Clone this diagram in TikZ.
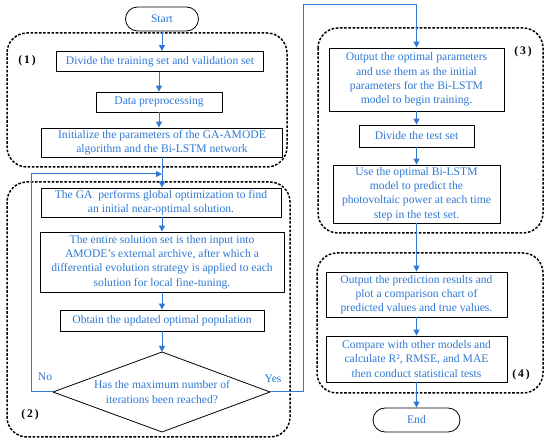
\documentclass[tikz,border=0pt]{standalone}
\usepackage{fontspec}
\setmainfont{Liberation Serif}
\usetikzlibrary{arrows.meta}
\definecolor{flowblue}{HTML}{2F78D4}
\begin{document}
\begin{tikzpicture}[x=1pt,y=-1pt, font=\fontsize{11.6}{14.2}\selectfont, line join=round,
	box/.style={draw, line width=0.8pt, align=center, text=flowblue, inner sep=1pt},
	term/.style={draw, line width=0.8pt, rounded corners=12pt, minimum width=73pt, minimum height=24pt, text=flowblue},
	group/.style={draw, line width=1.5pt, dash pattern=on 2.6pt off 1.6pt, rounded corners=20pt},
	flow/.style={flowblue, line width=1pt, -{Triangle[length=6pt,width=6pt]}},
	tag/.style={font=\fontsize{11.6}{12}\selectfont\bfseries}]
	\useasboundingbox (0,0) rectangle (550,443);
	% dashed groups
	\draw[group] (7,33) rectangle (287,167);
	\draw[group] (7,182) rectangle (290,437);
	\draw[group] (318,28) rectangle (543,233);
	\draw[group] (317,253) rectangle (543,393);
	\path (27,61) node[tag]{(\,1\,)} (30,415) node[tag]{(\,2\,)}
		(523,52) node[tag]{(\,3\,)} (521,375) node[tag]{(\,4\,)};
	% left column
	\node[term] (start) at (162,19) {Start};
	\node[box, minimum width=207pt, minimum height=20pt] (divtrain) at (160,61.5) {Divide the training set and validation set};
	\node[box, minimum width=126pt, minimum height=20pt] (prep) at (159,102) {Data preprocessing};
	\node[box, minimum width=241pt, minimum height=29pt] (init) at (162,142.5) {Initialize the parameters of the GA-AMODE\\algorithm and the Bi-LSTM network};
	\node[box, minimum width=240pt, minimum height=29pt] (ga) at (161,202.5) {The GA\ \ performs global optimization to find\\an initial near-optimal solution.};
	\node[box, minimum width=244pt, minimum height=60pt] (archive) at (162,262) {The entire solution set is then input into\\AMODE’s external archive, after which a\\differential evolution strategy is applied to each\\solution for local fine-tuning.};
	\node[box, minimum width=204pt, minimum height=21pt] (obtain) at (162,320.5) {Obtain the updated optimal population};
	\coordinate (dtop) at (162,352); \coordinate (dbot) at (162,432);
	\coordinate (dleft) at (53,392); \coordinate (dright) at (270,392);
	\draw[line width=0.8pt] (dtop) -- (dright) -- (dbot) -- (dleft) -- cycle;
	\node[align=center, text=flowblue] (ask) at (162,392) {Has the maximum number of\\iterations been reached?};
	\coordinate (loop) at (162,174);
	\node[text=flowblue] (nolab) at (45,377) {No};
	\node[text=flowblue] (yeslab) at (273,379) {Yes};
	% right column
	\node[box, minimum width=175pt, minimum height=63pt] (optpar) at (416.5,79.5) {Output the optimal parameters\\and use them as the initial\\parameters for the Bi-LSTM\\model to begin training.};
	\node[box, minimum width=115pt, minimum height=22pt] (divtest) at (416.5,136) {Divide the test set};
	\node[box, minimum width=167pt, minimum height=58pt] (predict) at (416.5,194) {Use the optimal Bi-LSTM\\model to predict the\\photovoltaic power at each time\\step in the test set.};
	\node[box, minimum width=181pt, minimum height=45pt] (result) at (416.5,294.5) {Output the prediction results and\\plot a comparison chart of\\predicted values and true values.};
	\node[box, minimum width=181pt, minimum height=46pt] (compare) at (416.5,359) {Compare with other models and\\calculate R², RMSE, and MAE\\then conduct statistical tests};
	\node[term, minimum width=87pt] (end) at (416.5,420) {End};
	% connectors
	\draw[flow] (start) -- (start|-divtrain.north);
	\draw[flow] (divtrain.south-|prep) -- (prep);
	\draw[flow] (prep) -- (prep|-init.north);
	\draw[flow] (init) -- (init|-ga.north);
	\draw[flow] (ga.south-|archive) -- (archive);
	\draw[flow] (archive) -- (obtain);
	\draw[flow] (obtain) -- (dtop);
	\draw[flow] (dleft) -- (31,392) -- (31,174) -- (loop);
	\draw[flow] (dright) -- (303,392) -- (303,5) -- (optpar.north|-0,5) -- (optpar);
	\draw[flow] (optpar) -- (divtest);
	\draw[flow] (divtest) -- (predict);
	\draw[flow] (predict) -- (result);
	\draw[flow] (result) -- (compare);
	\draw[flow] (compare) -- (end);
\end{tikzpicture}
\end{document}
